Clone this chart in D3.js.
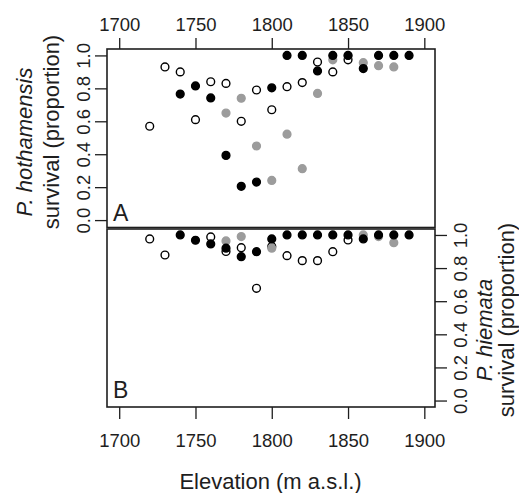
<!DOCTYPE html>
<html>
<head>
<meta charset="utf-8">
<script src="https://cdn.jsdelivr.net/npm/d3@7"></script>
<style>
  body { margin: 0; background: #fff; }
  svg { display: block; }
</style>
</head>
<body>
<div id="chart-area"></div>
<script>

// Data
var elevation = [1720, 1730, 1740, 1750, 1760, 1770, 1780, 1790, 1800, 1810, 1820, 1830, 1840, 1850, 1860, 1870, 1880, 1890];

// panel A: P. hothamensis
var hothOpen  = [0.57, 0.93, 0.90, 0.61, 0.84, 0.83, 0.60, 0.79, 0.67, 0.81, 0.835, 0.96, 0.90, 0.973, null, null, null, null];
var hothGrey  = [null, null, null, null, null, 0.65, 0.74, 0.45, 0.241, 0.522, 0.312, 0.769, 0.973, 1.0, 0.956, 0.938, 0.93, null];
var hothBlack = [null, null, 0.765, 0.815, 0.742, 0.393, 0.205, 0.231, 0.803, 1.0, 1.0, 0.906, 1.0, 1.0, 0.92, 1.0, 1.0, 1.0];

// panel B: P. hiemata
var hiemOpen  = [0.976, 0.879, null, null, 0.988, 0.90, 0.923, 0.678, 0.93, 0.875, 0.845, 0.845, 0.899, 0.97, null, null, null, null];
var hiemGrey  = [null, null, null, null, null, 0.964, 0.99, null, 0.92, null, null, null, null, null, 1.0, 0.99, 0.953, null];
var hiemBlack = [null, null, 1.0, 0.968, 0.946, 0.92, 0.869, 0.899, 0.976, 1.0, 1.0, 1.0, 1.0, 1.0, 0.976, 1.0, 1.0, 1.0];

var xTicks = [1700, 1750, 1800, 1850, 1900];
var yTicks = [0, 0.2, 0.4, 0.6, 0.8, 1.0];

var font = "'Liberation Sans', Arial, sans-serif";
var ink = "#1e1e1e";
var grey = "#9c9c9c";

var svg = d3.select("#chart-area").append("svg")
    .attr("width", 519)
    .attr("height", 493);

// Scales
var x = d3.scaleLinear().domain([1692, 1907]).range([107, 435]);
var yTop = d3.scaleLinear().domain([-0.045, 1.039]).range([227.5, 49]);
var yBot = d3.scaleLinear().domain([-0.039, 1.036]).range([407, 229]);

function series(vals) {
	return elevation.map(function(e, i) { return {x: e, y: vals[i]}; })
		.filter(function(d) { return d.y != null; });
}

function drawPoints(y, vals, fill, stroke) {
	svg.append("g").selectAll("circle")
		.data(series(vals))
		.enter().append("circle")
		.attr("cx", function(d) { return x(d.x); })
		.attr("cy", function(d) { return y(d.y); })
		.attr("r", 3.9)
		.attr("fill", fill)
		.attr("stroke", stroke)
		.attr("stroke-width", 1.4);
}

// points, panel A then B
drawPoints(yTop, hothOpen, "none", "#000");
drawPoints(yTop, hothGrey, grey, grey);
drawPoints(yTop, hothBlack, "#000", "#000");
drawPoints(yBot, hiemOpen, "none", "#000");
drawPoints(yBot, hiemGrey, grey, grey);
drawPoints(yBot, hiemBlack, "#000", "#000");

// frames
svg.append("rect")
	.attr("x", 107).attr("y", 49).attr("width", 328).attr("height", 178.5)
	.attr("fill", "none").attr("stroke", ink).attr("stroke-width", 1.6);
svg.append("rect")
	.attr("x", 107).attr("y", 229).attr("width", 328).attr("height", 178)
	.attr("fill", "none").attr("stroke", ink).attr("stroke-width", 1.6);

function styleAxis(g) {
	g.attr("font-size", 18.5).attr("font-family", font).attr("color", ink);
	g.select(".domain").remove();
	g.selectAll("line").attr("stroke-width", 1.3);
}

// top axis (panel A)
svg.append("g")
	.attr("transform", "translate(0,49)")
	.call(d3.axisTop(x).tickValues(xTicks).tickSize(11).tickPadding(7).tickFormat(d3.format("d")))
	.call(styleAxis);

// bottom axis (panel B)
svg.append("g")
	.attr("transform", "translate(0,407)")
	.call(d3.axisBottom(x).tickValues(xTicks).tickSize(12).tickFormat(d3.format("d")))
	.call(styleAxis)
	.selectAll("text").attr("y", 39.7).attr("dy", 0);

// left axis (panel A), labels turned
svg.append("g")
	.attr("transform", "translate(107,0)")
	.call(d3.axisLeft(yTop).tickValues(yTicks).tickSize(12).tickFormat(d3.format(".1f")))
	.call(styleAxis)
	.selectAll("text")
	.attr("x", 0).attr("dy", 0)
	.attr("text-anchor", "middle")
	.attr("transform", "translate(-17,0) rotate(-90)");

// right axis (panel B), labels turned
svg.append("g")
	.attr("transform", "translate(435,0)")
	.call(d3.axisRight(yBot).tickValues(yTicks).tickSize(12).tickFormat(d3.format(".1f")))
	.call(styleAxis)
	.selectAll("text")
	.attr("x", 0).attr("dy", 0)
	.attr("text-anchor", "middle")
	.attr("transform", "translate(31.7,0) rotate(-90)");

// titles
function title(tx, ty, rot, txt, italic) {
	svg.append("text")
		.attr("transform", "translate(" + tx + "," + ty + ") rotate(" + rot + ")")
		.attr("text-anchor", "middle")
		.attr("font-family", font)
		.attr("font-size", 22)
		.attr("font-style", italic ? "italic" : "normal")
		.attr("fill", ink)
		.text(txt);
}

title(31.5, 142, -90, "P. hothamensis", true);
title(59.3, 132, -90, "survival (proportion)", false);
title(492, 330, -90, "P. hiemata", true);
title(513.5, 320, -90, "survival (proportion)", false);
title(270.5, 489, 0, "Elevation (m a.s.l.)", false);

// panel letters
svg.append("text").attr("x", 113).attr("y", 220.7)
	.attr("font-family", font).attr("font-size", 23).attr("fill", ink).text("A");
svg.append("text").attr("x", 113).attr("y", 398.3)
	.attr("font-family", font).attr("font-size", 23).attr("fill", ink).text("B");

</script>
</body>
</html>
